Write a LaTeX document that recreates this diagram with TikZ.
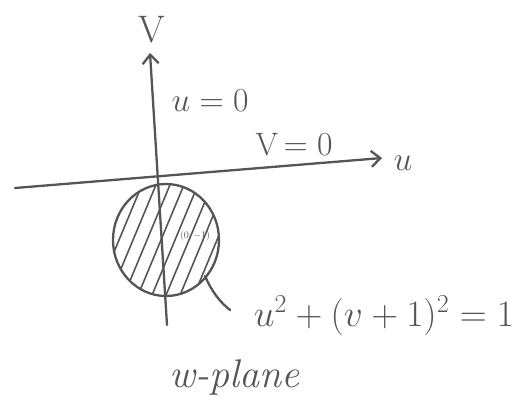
\documentclass[tikz,border=0pt]{standalone}
\usetikzlibrary{arrows.meta,shapes.geometric}
\definecolor{ink}{RGB}{85,85,85}
\begin{document}
\begin{tikzpicture}[x=1pt,y=-1pt,
  pen/.style={draw=ink,line width=2.3pt,line cap=round,line join=round},
  axis/.style={pen,-{Straight Barb[length=9pt,width=16pt,line width=2.3pt]}},
  hatch/.style={draw=ink,line width=1.6pt,line cap=round},
  lbl/.style={text=ink,inner sep=0pt,font=\fontsize{24}{26}\selectfont}]
\useasboundingbox (0,0) rectangle (524,416);
% axes
\coordinate (ul) at (15,188);
\coordinate (ur) at (382,158);
\coordinate (vb) at (167,325);
\coordinate (vt) at (150,53);
\draw[axis] (ul) -- (ur);
\draw[axis] (vb) -- (vt);
% disc
\node[draw=ink,line width=2.3pt,ellipse,minimum width=106pt,minimum height=112pt,inner sep=0pt] (disc) at (166,240) {};
\begin{scope}
\clip (166,240) ellipse [x radius=53,y radius=56];
\foreach \s in {-84,-70,-56,-42,-28,-14,0,14,28,42,56,70,84}
  \draw[hatch] (166+\s-30,300) -- (166+\s+20,180);
\end{scope}
\node[text=ink,font=\normalsize,inner sep=0pt] (cen) at (195,236) {$(0,-1)$};
% pointer
\coordinate (pe) at (230,310);
\draw[pen] (205,276) .. controls (212,292) and (220,302) .. (pe);
% labels
\node[lbl] (V) at (152,30) {\scalebox{1.6}{V}};
\node[lbl] (u0) at (210,101) {\scalebox{1.35}{$u=0$}};
\node[lbl] (v0) at (294,145) {\scalebox{1.35}{V$\,=0$}};
\node[lbl] (u) at (403,163) {\scalebox{1.35}{$u$}};
\node[lbl] (eq) at (384,316) {\scalebox{1.5}{$u^2 + (v+1)^2 = 1$}};
\node[lbl,font=\fontsize{40}{42}\selectfont\itshape] (wp) at (234,377) {w-plane};
\end{tikzpicture}
\end{document}
